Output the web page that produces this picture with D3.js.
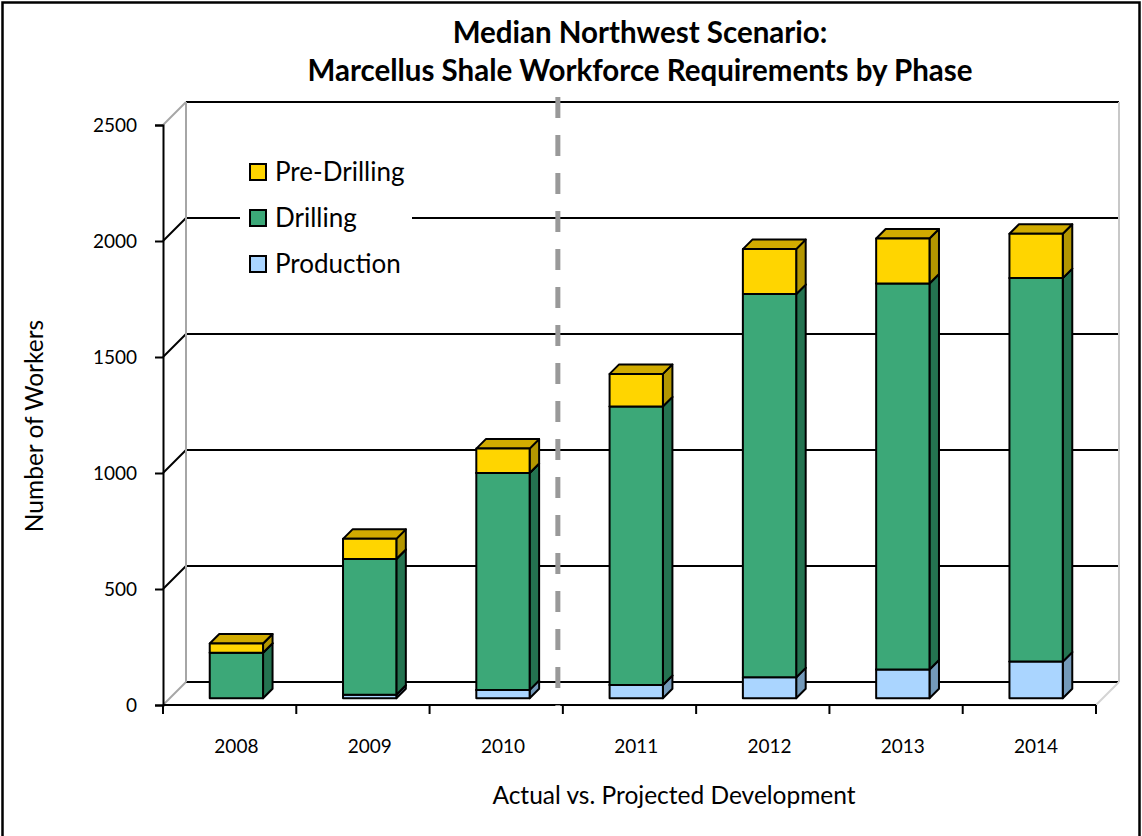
<!DOCTYPE html>
<html>
<head>
<meta charset="utf-8">
<script src="https://cdn.jsdelivr.net/npm/d3@7"></script>
<style>
  html, body { margin: 0; padding: 0; background: #fff; }
  svg { display: block; font-family: Lato, "Open Sans", sans-serif; }
</style>
</head>
<body>
<svg id="chart" width="1142" height="836"></svg>
<script>
// Workforce requirements by phase, 2008-2014 (2008-2010 actual, 2011-2014 projected)
const years       = ["2008", "2009", "2010", "2011", "2012", "2013", "2014"];
const production  = [0, 15, 36, 57, 90, 124, 158];
const drilling    = [196, 585, 935, 1201, 1652, 1664, 1653];
const preDrilling = [40, 87, 105, 140, 194, 194, 191];
const yTicks      = [0, 500, 1000, 1500, 2000, 2500];
const phases      = ["Production", "Drilling", "Pre-Drilling"];
const legendOrder = ["Pre-Drilling", "Drilling", "Production"];
const firstProjectedYear = "2011";

const phaseValues = { "Production": production, "Drilling": drilling, "Pre-Drilling": preDrilling };
const faceColors = {
  "Pre-Drilling": { front: "#FFD500", top: "#D1AB00", side: "#B39600" },
  "Drilling":     { front: "#3CA878", top: "#2F8A61", side: "#247350" },
  "Production":   { front: "#AAD5FF", top: "#8DB3D6", side: "#7399B9" }
};

const svg = d3.select("#chart");

// Outer frame
svg.append("rect")
  .attr("x", 2.5).attr("y", 2.5).attr("width", 1137).attr("height", 845)
  .attr("fill", "none").attr("stroke", "#000").attr("stroke-width", 2.5);

// Front plane of the 3-D plot box; the back wall sits DEPTH px up and to the right
const plotLeft = 163, plotRight = 1096, plotBottom = 705, plotTop = 125;
const DEPTH = 23;
const BAR_DEPTH = 9.5;
const barOff = (DEPTH - BAR_DEPTH) / 2;

const x = d3.scaleBand().domain(years).range([plotLeft, plotRight])
  .paddingInner(0.6).paddingOuter(0.3);
const y = d3.scaleLinear().domain([0, 2500]).range([plotBottom, plotTop]);

const stack = d3.stack().keys(phases)(years.map((yr, i) => {
  const row = { year: yr };
  phases.forEach(p => { row[p] = phaseValues[p][i]; });
  return row;
}));

// Walls: back wall gridlines and left side wall
const walls = svg.append("g");
yTicks.forEach(t => {
  const yb = y(t) - DEPTH;
  walls.append("line")
    .attr("x1", plotLeft + DEPTH).attr("x2", plotRight + DEPTH)
    .attr("y1", yb).attr("y2", yb)
    .attr("stroke", "#000").attr("stroke-width", 2);
  walls.append("line")
    .attr("x1", plotLeft).attr("y1", y(t))
    .attr("x2", plotLeft + DEPTH).attr("y2", yb)
    .attr("stroke", (t === 0 || t === 2500) ? "#a6a6a6" : "#000")
    .attr("stroke-width", 2);
});
// back wall vertical edges and floor right edge
walls.append("line")
  .attr("x1", plotLeft + DEPTH).attr("x2", plotLeft + DEPTH)
  .attr("y1", y(2500) - DEPTH).attr("y2", y(0) - DEPTH)
  .attr("stroke", "#a6a6a6").attr("stroke-width", 2);
walls.append("line")
  .attr("x1", plotRight + DEPTH).attr("x2", plotRight + DEPTH)
  .attr("y1", y(2500) - DEPTH).attr("y2", y(0) - DEPTH)
  .attr("stroke", "#c8c8c8").attr("stroke-width", 2);
walls.append("line")
  .attr("x1", plotRight).attr("y1", y(0))
  .attr("x2", plotRight + DEPTH).attr("y2", y(0) - DEPTH)
  .attr("stroke", "#d4d4d4").attr("stroke-width", 2);

// Legend (white box sits over the gridline)
const legend = svg.append("g").attr("transform", "translate(240,150)");
legend.append("rect").attr("x", 0).attr("y", 0).attr("width", 172).attr("height", 135).attr("fill", "#fff");
legendOrder.forEach((p, i) => {
  const g = legend.append("g").attr("transform", `translate(10,${14 + i * 46})`);
  g.append("rect").attr("width", 16).attr("height", 16)
    .attr("fill", faceColors[p].front).attr("stroke", "#000").attr("stroke-width", 2);
  g.append("text").attr("x", 25).attr("y", 8).attr("dy", "0.35em")
    .attr("font-size", 26).attr("fill", "#000").text(p);
});

// Bars: each stacked segment is a box with front, side and top faces
const bars = svg.append("g");
years.forEach((yr, i) => {
  const x0 = x(yr) + barOff;
  const x1 = x0 + x.bandwidth();
  stack.forEach(layer => {
    const p = layer.key;
    const [v0, v1] = layer[i];
    if (v1 - v0 <= 0) return;
    const yb = y(v0) - barOff, yt = y(v1) - barOff;
    const c = faceColors[p];
    const d = BAR_DEPTH;
    const seg = bars.append("g")
      .attr("stroke", "#000").attr("stroke-width", 2).attr("stroke-linejoin", "round");
    seg.append("path")
      .attr("d", `M${x1},${yb} L${x1 + d},${yb - d} L${x1 + d},${yt - d} L${x1},${yt} Z`)
      .attr("fill", c.side);
    seg.append("path")
      .attr("d", `M${x0},${yt} L${x0 + d},${yt - d} L${x1 + d},${yt - d} L${x1},${yt} Z`)
      .attr("fill", c.top);
    seg.append("rect")
      .attr("x", x0).attr("y", yt).attr("width", x1 - x0).attr("height", yb - yt)
      .attr("fill", c.front);
  });
});

// Y axis on the front plane
const yAxis = svg.append("g").attr("transform", `translate(${plotLeft},0)`)
  .call(d3.axisLeft(y).tickValues(yTicks).tickSize(8).tickPadding(18).tickFormat(d3.format("d")));
yAxis.select(".domain").attr("stroke", "#000").attr("stroke-width", 2);
yAxis.selectAll(".tick line").attr("stroke", "#000").attr("stroke-width", 2);
yAxis.selectAll(".tick text").attr("font-size", 19).attr("font-family", "Lato, sans-serif").attr("fill", "#000");

// X axis: tick marks at category boundaries, labels under each bar
const boundaries = years.map(yr => x(yr) - x.step() * x.paddingInner() / 2).concat([plotRight]);
const xAxisG = svg.append("g");
xAxisG.append("line").attr("x1", plotLeft).attr("x2", plotRight).attr("y1", plotBottom).attr("y2", plotBottom)
  .attr("stroke", "#000").attr("stroke-width", 2);
boundaries.forEach(bx => {
  xAxisG.append("line").attr("x1", bx).attr("x2", bx).attr("y1", plotBottom).attr("y2", plotBottom + 9)
    .attr("stroke", "#000").attr("stroke-width", 2);
});
const xLabels = svg.append("g").attr("transform", `translate(${barOff},${plotBottom + 23})`)
  .call(d3.axisBottom(x).tickSize(0).tickPadding(12));
xLabels.select(".domain").remove();
xLabels.selectAll(".tick text").attr("font-size", 19).attr("font-family", "Lato, sans-serif").attr("fill", "#000");

// Divider between actual and projected years
const divX = x(firstProjectedYear) - x.step() * x.paddingInner() / 2 - 5;
svg.append("line")
  .attr("x1", divX).attr("x2", divX).attr("y1", 97).attr("y2", plotBottom + 1)
  .attr("stroke", "#999").attr("stroke-width", 5).attr("stroke-dasharray", "21 17");

// Titles
svg.append("text").attr("x", 640).attr("y", 43).attr("text-anchor", "middle")
  .attr("font-size", 29.5).attr("font-weight", "bold").text("Median Northwest Scenario:");
svg.append("text").attr("x", 640).attr("y", 81).attr("text-anchor", "middle")
  .attr("font-size", 29.5).attr("font-weight", "bold").text("Marcellus Shale Workforce Requirements by Phase");
svg.append("text").attr("x", 674).attr("y", 804).attr("text-anchor", "middle")
  .attr("font-size", 24.5).text("Actual vs. Projected Development");
svg.append("text").attr("transform", "translate(43,426) rotate(-90)").attr("text-anchor", "middle")
  .attr("font-size", 24.5).text("Number of Workers");
</script>
</body>
</html>
